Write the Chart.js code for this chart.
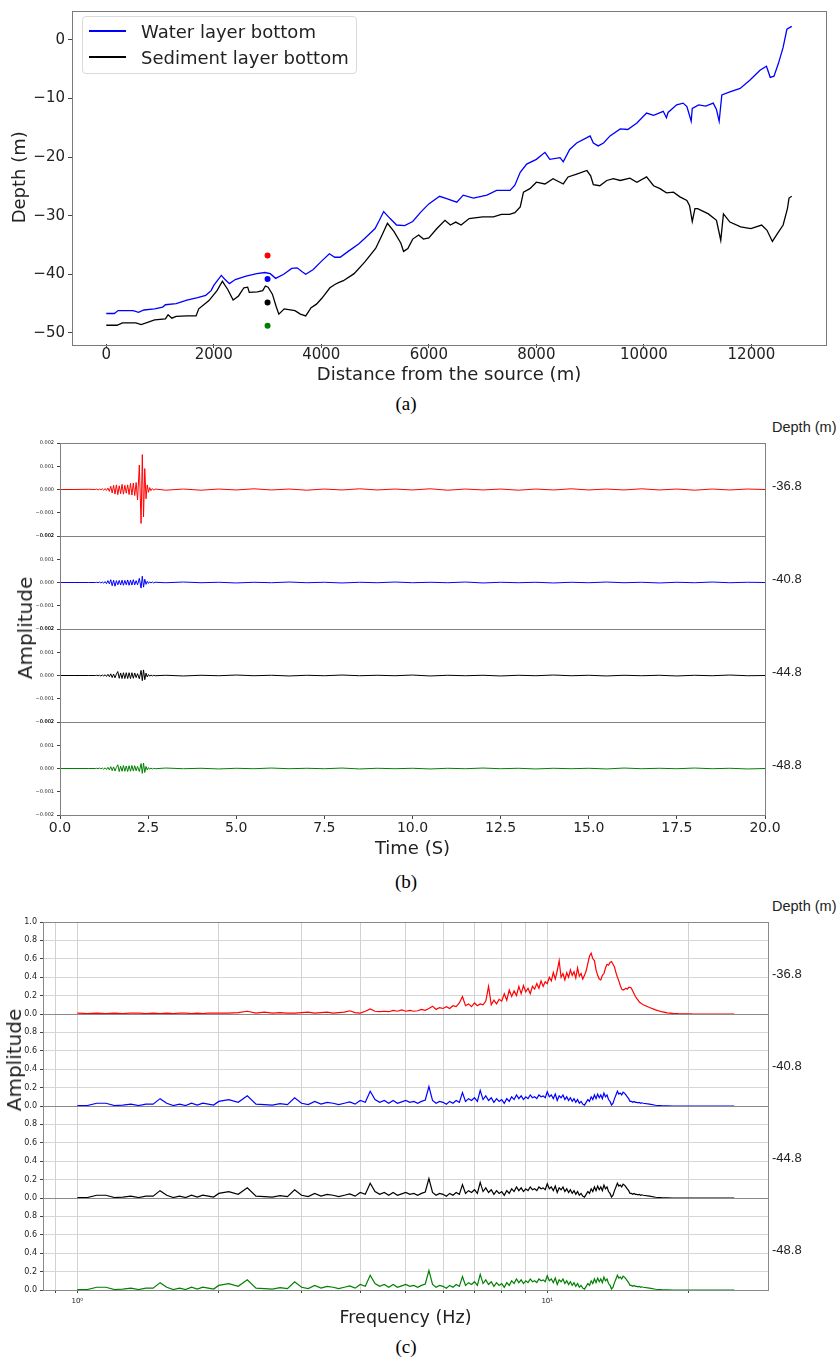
<!DOCTYPE html>
<html lang="en">
<head>
<meta charset="UTF-8">
<meta name="viewport" content="width=device-width, initial-scale=1.0">
<title>Layer profile, waveforms and spectra</title>
<script src="https://cdn.jsdelivr.net/npm/chart.js"></script>
<style>
  html, body { margin: 0; padding: 0; background: #fff; }
  #page { position: relative; width: 840px; height: 1358px; overflow: hidden;
          font-family: "DejaVu Sans", sans-serif; color: #222; }
  #page canvas { position: absolute; left: 0; }
  .lbl { position: absolute; white-space: nowrap; transform: translate(-50%, -50%); }
  .cap { font-family: "Liberation Serif", serif; font-size: 19px; color: #000; }
  .rot { font-size: 20px; transform: translate(-50%, -50%) rotate(-90deg); }
  .dep { position: absolute; left: 772px; white-space: nowrap; transform: translateY(-50%);
         font-family: "Liberation Sans", sans-serif; font-size: 13px; color: #222; }
  .dep.head { font-size: 14.5px; }
  #legend { position: absolute; left: 82px; top: 16px; width: 275px; height: 58px; box-sizing: border-box;
            border: 1px solid #d9d9d9; border-radius: 4px; background: rgba(255,255,255,0.85); padding-top: 1px; }
  #legend .row { height: 26px; display: flex; align-items: center; font-size: 18px; color: #222; }
  #legend .sw { display: inline-block; width: 37px; height: 1.5px; margin: 0 15px 0 6px; }
</style>
</head>
<body>
<div id="page">
  <canvas id="profile" width="840" height="390" style="top:0px"></canvas>
  <div id="legend"></div>
  <div class="lbl cap" style="left:406px; top:404px">(a)</div>

  <canvas id="wave0" width="840" height="109" style="top:435px"></canvas>
  <canvas id="wave1" width="840" height="109" style="top:528px"></canvas>
  <canvas id="wave2" width="840" height="109" style="top:621px"></canvas>
  <canvas id="wave3" width="840" height="148" style="top:714px"></canvas>
  <div class="lbl rot" style="left:25px; top:628px">Amplitude</div>
  <div class="lbl cap" style="left:406px; top:882px">(b)</div>

  <canvas id="spec0" width="840" height="108" style="top:914px"></canvas>
  <canvas id="spec1" width="840" height="108" style="top:1006px"></canvas>
  <canvas id="spec2" width="840" height="108" style="top:1098px"></canvas>
  <canvas id="spec3" width="840" height="145" style="top:1190px"></canvas>
  <div class="lbl rot" style="left:14px; top:1060px">Amplitude</div>
  <div class="lbl cap" style="left:406px; top:1347px">(c)</div>
</div>

<script>
// ---- (a) layer profile ----
const waterDist = [
  0, 150, 220, 500, 600, 700, 900, 1050, 1100, 1300,
  1500, 1700, 1850, 1950, 2000, 2080, 2140, 2200, 2290, 2400,
  2600, 2800, 2950, 3050, 3150, 3300, 3450, 3550, 3650, 3710,
  3850, 4000, 4150, 4250, 4350, 4500, 4700, 4850, 5000, 5080,
  5160, 5280, 5400, 5550, 5700, 5850, 6000, 6200, 6330, 6520,
  6640, 6830, 7080, 7260, 7510, 7600, 7700, 7820, 8000, 8160,
  8250, 8440, 8500, 8620, 8750, 8940, 9000, 9060, 9150, 9250,
  9370, 9560, 9700, 9870, 10050, 10180, 10360, 10420, 10450, 10610,
  10730, 10800, 10880, 10900, 11020, 11150, 11290, 11350, 11400, 11450,
  11600, 11790, 11970, 12160, 12280, 12350, 12420, 12500, 12590, 12660,
  12750];
const waterDepth = [
  -46.7, -46.7, -46.2, -46.2, -46.5, -46.1, -45.9, -45.6, -45.2, -45.0,
  -44.4, -44.0, -43.6, -42.8, -41.9, -40.9, -40.2, -40.8, -41.6, -40.9,
  -40.3, -39.9, -39.7, -39.9, -40.7, -40.0, -39.0, -38.9, -39.6, -40.0,
  -39.2, -37.8, -36.5, -37.1, -37.1, -36.1, -34.8, -33.5, -32.2, -30.8,
  -29.3, -30.5, -31.6, -31.7, -31.0, -29.4, -28.0, -26.7, -27.1, -27.7,
  -26.5, -27.0, -26.5, -25.7, -25.7, -24.8, -22.6, -21.2, -20.4, -19.2,
  -20.4, -20.1, -20.8, -18.7, -17.6, -16.7, -16.4, -17.6, -18.1, -17.6,
  -16.4, -15.2, -15.3, -14.2, -12.5, -12.9, -12.2, -13.3, -12.4, -11.1,
  -10.8, -11.4, -13.9, -11.7, -11.1, -11.3, -10.8, -11.9, -13.9, -9.4,
  -8.9, -8.3, -6.9, -5.2, -4.5, -6.4, -6.2, -4.1, -1.3, 1.8,
  2.3];
const sedimentDist = [
  0, 200, 300, 550, 650, 900, 1100, 1150, 1220, 1300,
  1500, 1670, 1720, 1910, 2060, 2160, 2260, 2360, 2460, 2560,
  2630, 2660, 2810, 2910, 2960, 3010, 3090, 3160, 3210, 3310,
  3510, 3610, 3710, 3810, 3910, 4010, 4160, 4260, 4330, 4410,
  4610, 4810, 5010, 5130, 5230, 5350, 5480, 5530, 5610, 5700,
  5810, 5900, 6000, 6150, 6300, 6400, 6500, 6600, 6750, 7000,
  7200, 7350, 7500, 7600, 7700, 7760, 7880, 8000, 8160, 8310,
  8500, 8590, 8750, 8940, 9010, 9060, 9180, 9310, 9430, 9560,
  9740, 9870, 10050, 10180, 10300, 10420, 10550, 10670, 10800, 10850,
  10900, 10950, 11000, 11200, 11350, 11430, 11480, 11600, 11800, 11990,
  12190, 12290, 12390, 12490, 12590, 12670, 12700, 12750];
const sedimentDepth = [
  -48.7, -48.7, -48.3, -48.3, -48.6, -47.8, -47.6, -46.9, -47.5, -47.2,
  -47.1, -47.1, -45.9, -44.5, -42.8, -41.2, -42.6, -44.4, -43.7, -42.3,
  -42.2, -43.1, -43.0, -42.8, -42.0, -42.2, -43.4, -45.5, -46.8, -45.9,
  -46.2, -46.8, -47.1, -45.7, -45.1, -44.1, -42.3, -41.7, -41.4, -41.1,
  -39.9, -37.9, -35.6, -33.3, -31.3, -32.7, -34.7, -36.1, -35.6, -34.0,
  -33.3, -34.0, -33.8, -32.2, -30.8, -31.6, -31.1, -31.6, -30.5, -30.2,
  -30.2, -29.8, -29.8, -29.5, -28.5, -26.0, -25.4, -24.3, -24.6, -23.7,
  -24.6, -23.4, -22.9, -22.3, -23.2, -24.7, -24.9, -24.0, -23.7, -24.0,
  -23.6, -24.3, -23.4, -24.9, -25.4, -26.1, -26.0, -26.8, -27.4, -28.3,
  -31.0, -28.8, -28.8, -29.7, -30.8, -34.2, -29.7, -31.1, -31.9, -32.2,
  -31.6, -32.5, -34.4, -33.0, -31.6, -28.8, -27.0, -26.7];
const receiverDist = 3000;
const receiverDepth = [-36.8, -40.8, -44.8, -48.8];
const distTicks = [0, 2000, 4000, 6000, 8000, 10000, 12000];
const depthTicks = [-50, -40, -30, -20, -10, 0];

// ---- (b) waveforms, amplitude in units of 1e-5 ----
const timeS = [
  0, 0.4, 0.8, 1.0,
  1.04, 1.08, 1.12, 1.16, 1.2, 1.24, 1.28, 1.32, 1.36, 1.4,
  1.44, 1.48, 1.52, 1.56, 1.6, 1.64, 1.68, 1.72, 1.76, 1.8,
  1.84, 1.88, 1.92, 1.96, 2.0, 2.04, 2.08, 2.12, 2.16,
  2.2, 2.25, 2.3, 2.335, 2.37, 2.405, 2.44, 2.475, 2.51, 2.545, 2.58, 2.62, 2.66, 2.7,
  3, 3.5, 4, 4.5, 5, 5.5, 6, 6.5, 7, 7.5,
  8, 8.5, 9, 9.5, 10, 10.5, 11, 11.5, 12, 12.5,
  13, 13.5, 14, 14.5, 15, 15.5, 16, 16.5, 17, 17.5,
  18, 18.5, 19, 19.5, 20];
const ampRed = [
  0, 0, 1, 0,
  2, -2, 2, -1, 3, -3, 4, -4, 6, -8,
  14, -15, 18, -20, 20, -22, 16, -18, 22, -20,
  18, -16, 20, -22, 26, -24, 28, -26, 30,
  -45, 105, -146, 150, -118, 90, -40, 20, -12, 8, -5, 4, -3, 2,
  -3, 2, -3, 2, -2, 3, -2, 2, -3, 2,
  -2, 3, -2, 2, -2, 3, -3, 2, -2, 2,
  -3, 2, -2, 3, -2, 2, -2, 3, -2, 2,
  -3, 2, -2, 2, 0];
const ampBlue = [
  0, 0, 0, 0,
  1, -1, 2, -2, 2, -3, 4, -5, 8, -6,
  12, -14, 10, -16, 8, -10, 9, -11, 10, -12,
  9, -10, 11, -12, 10, -11, 12, -10, 8,
  -10, 18, -24, 27, -20, 14, -8, 5, -4, 3, -2, 2, -2, 1,
  -1, 2, -1, 1, -2, 1, -1, 2, -1, 1,
  -2, 1, -1, 2, -1, 1, -1, 2, -2, 1,
  -1, 1, -2, 1, -1, 2, -1, 1, -2, 1,
  -1, 2, -1, 1, 0];
const ampBlack = [
  0, 0, 0, 0,
  1, -1, 1, -2, 2, -2, 3, -4, 5, -5,
  7, -9, 6, -10, 6, 17, -12, 11, -13, 12,
  -13, 12, -13, 12, -13, 12, -12, 11, -9,
  8, -14, 22, -22, 24, -18, 10, -6, 4, -3, 2, -2, 1, -1,
  1, -2, 1, -1, 2, -1, 1, -2, 1, -1,
  2, -1, 1, -1, 2, -2, 1, -1, 1, -2,
  1, -1, 2, -1, 1, -2, 1, -1, 1, -2,
  1, -1, 2, -1, 0];
const ampGreen = [
  0, 0, 0, 0,
  1, -1, 2, -1, 2, -3, 3, -4, 5, -6,
  8, -9, 7, -11, 5, 16, -13, 10, -12, 13,
  -12, 11, -13, 12, -12, 13, -11, 12, -10,
  9, -13, 21, -21, 23, -17, 9, -6, 4, -3, 2, -2, 1, -1,
  2, -1, 1, -2, 1, -1, 2, -1, 1, -1,
  2, -2, 1, -1, 1, -2, 1, -1, 2, -1,
  1, -2, 1, -1, 1, -2, 2, -1, 1, -1,
  2, -1, 1, -2, 0];

// ---- (c) spectra ----
const freqHz = [
  1.00, 1.05, 1.10, 1.15, 1.20, 1.25, 1.30, 1.35, 1.40, 1.45,
  1.50, 1.55, 1.60, 1.65, 1.70, 1.75, 1.80, 1.85, 1.90, 1.95,
  2.0, 2.1, 2.2, 2.3, 2.4, 2.5, 2.6, 2.7, 2.8, 2.9,
  3.0, 3.1, 3.2, 3.3, 3.4, 3.5, 3.6, 3.7, 3.8, 3.9,
  4.0, 4.1, 4.2, 4.3, 4.4, 4.5, 4.6, 4.7, 4.8, 4.9,
  5.0, 5.1, 5.2, 5.3, 5.4, 5.5, 5.6, 5.7, 5.8, 5.9,
  6.0, 6.1, 6.2, 6.3, 6.4, 6.5, 6.6, 6.7, 6.8, 6.9,
  7.0, 7.1, 7.2, 7.3, 7.4, 7.5, 7.6, 7.7, 7.8, 7.9,
  8.0, 8.1, 8.2, 8.3, 8.4, 8.5, 8.6, 8.7, 8.8, 8.9,
  9.0, 9.1, 9.2, 9.3, 9.4, 9.5, 9.6, 9.7, 9.8, 9.9,
  10.0, 10.1, 10.2, 10.3, 10.4, 10.5, 10.6, 10.7, 10.8, 10.9,
  11.0, 11.1, 11.2, 11.3, 11.4, 11.5, 11.6, 11.7, 11.8, 11.9,
  12.0, 12.1, 12.2, 12.3, 12.4, 12.5, 12.6, 12.7, 12.8, 12.9,
  13.0, 13.1, 13.2, 13.3, 13.4, 13.5, 13.6, 13.7, 13.8, 13.9,
  14.0, 14.1, 14.2, 14.3, 14.4, 14.5, 14.6, 14.7, 14.8, 14.9,
  15.0, 15.1, 15.2, 15.3, 15.4, 15.5, 15.6, 15.7, 15.8, 15.9,
  16.0, 16.5, 17.0, 17.5, 18.0, 18.5, 19.0, 19.5, 20.0, 20.5,
  21.0, 21.5, 22.0, 22.5, 23.0, 23.5, 24.0, 24.5, 25.0];
const specRed = [
  0.01, 0.005, 0.01, 0.005, 0.01, 0.005, 0.01, 0.01, 0.005, 0.01,
  0.005, 0.01, 0.005, 0.01, 0.01, 0.005, 0.01, 0.005, 0.01, 0.01,
  0.01, 0.01, 0.015, 0.03, 0.01, 0.02, 0.01, 0.015, 0.01, 0.01,
  0.015, 0.02, 0.01, 0.015, 0.02, 0.01, 0.015, 0.02, 0.035, 0.015,
  0.01, 0.03, 0.055, 0.03, 0.025, 0.03, 0.025, 0.04, 0.03, 0.045,
  0.03, 0.04, 0.03, 0.035, 0.05, 0.04, 0.06, 0.085, 0.05, 0.07,
  0.06, 0.08, 0.06, 0.09, 0.08, 0.12, 0.19, 0.09, 0.11, 0.08,
  0.12, 0.09, 0.11, 0.10, 0.14, 0.30, 0.10, 0.15, 0.11, 0.16,
  0.14, 0.22, 0.15, 0.26, 0.19, 0.25, 0.20, 0.30, 0.22, 0.31,
  0.24, 0.28, 0.22, 0.30, 0.27, 0.33, 0.28, 0.36, 0.30, 0.35,
  0.33, 0.40, 0.36, 0.45, 0.38, 0.47, 0.58, 0.40, 0.44, 0.37,
  0.45, 0.40, 0.48, 0.42, 0.46, 0.39, 0.50, 0.41, 0.44, 0.38,
  0.42, 0.47, 0.55, 0.63, 0.66, 0.60, 0.58, 0.48, 0.42, 0.38,
  0.37, 0.42, 0.44, 0.50, 0.54, 0.53, 0.56, 0.57, 0.54, 0.51,
  0.45, 0.40, 0.36, 0.31, 0.27, 0.26, 0.27, 0.28, 0.27, 0.29,
  0.29, 0.28, 0.25, 0.22, 0.19, 0.17, 0.15, 0.13, 0.12, 0.11,
  0.10, 0.07, 0.045, 0.025, 0.012, 0.006, 0.003, 0.002, 0.001, 0,
  0, 0, 0, 0, 0, 0, 0, 0, 0];
// blue, black and green spectra look the same in the picture
const specLower = [
  0.005, 0.005, 0.03, 0.03, 0.005, 0.01, 0.02, 0.005, 0.02, 0.02,
  0.08, 0.03, 0.005, 0.02, 0.005, 0.03, 0.01, 0.03, 0.02, 0.01,
  0.05, 0.07, 0.04, 0.11, 0.02, 0.015, 0.01, 0.025, 0.015, 0.09,
  0.03, 0.015, 0.05, 0.02, 0.04, 0.03, 0.015, 0.03, 0.045, 0.02,
  0.06, 0.04, 0.16, 0.07, 0.04, 0.06, 0.03, 0.06, 0.03, 0.045,
  0.06, 0.04, 0.05, 0.03, 0.05, 0.065, 0.21, 0.06, 0.03, 0.05,
  0.04, 0.02, 0.05, 0.03, 0.06, 0.04, 0.145, 0.05, 0.08, 0.06,
  0.09, 0.05, 0.17, 0.07, 0.11, 0.06, 0.09, 0.04, 0.08, 0.05,
  0.07, 0.03, 0.08, 0.05, 0.10, 0.07, 0.12, 0.08, 0.11, 0.07,
  0.10, 0.08, 0.12, 0.09, 0.10, 0.08, 0.12, 0.10, 0.11, 0.09,
  0.155, 0.10, 0.12, 0.08, 0.13, 0.06, 0.11, 0.09, 0.12, 0.07,
  0.10, 0.06, 0.09, 0.05, 0.08, 0.04, 0.07, 0.03, 0.05, 0.02,
  0.01, 0.04, 0.07, 0.05, 0.10, 0.07, 0.12, 0.08, 0.13, 0.09,
  0.12, 0.08, 0.14, 0.10, 0.12, 0.07, 0.05, 0.01, 0.03, 0.08,
  0.12, 0.16, 0.13, 0.14, 0.12, 0.15, 0.14, 0.12, 0.10, 0.08,
  0.05, 0.05, 0.04, 0.05, 0.04, 0.04, 0.035, 0.04, 0.03, 0.035,
  0.03, 0.02, 0.008, 0.004, 0.002, 0, 0, 0, 0, 0,
  0, 0, 0, 0, 0, 0, 0, 0, 0];
const logGridHz = [0.9, 1, 2, 3, 4, 5, 6, 7, 8, 9, 10, 20];
const specTicksTop = [0, 0.2, 0.4, 0.6, 0.8, 1.0];
const specTicks = [0, 0.2, 0.4, 0.6, 0.8];

const traceColors = ['#ff0000', '#0000ff', '#000000', '#008000'];

Chart.defaults.font.family = '"DejaVu Sans", sans-serif';
Chart.defaults.color = '#222';

// box around each plot area, like the matplotlib spines
const framePlugin = {
  id: 'frame',
  afterDraw(chart, args, opts) {
    const { ctx, chartArea: a } = chart;
    ctx.save();
    ctx.strokeStyle = opts.color || '#7a7a7a';
    ctx.lineWidth = 1;
    ctx.strokeRect(Math.round(a.left) + 0.5, Math.round(a.top) + 0.5,
                   Math.round(a.right - a.left), Math.round(a.bottom - a.top));
    ctx.restore();
  }
};

function pts(xs, ys) { return xs.map((x, i) => ({ x: x, y: ys[i] })); }
function minusSign(s) { return s.replace('-', '\u2212'); }

const baseOpts = {
  responsive: false, animation: false, devicePixelRatio: 1,
  events: []
};

// (a)
const profile = new Chart(document.getElementById('profile'), {
  type: 'line',
  data: {
    datasets: [
      { label: 'Water layer bottom', data: pts(waterDist, waterDepth), borderColor: '#0000ff',
        borderWidth: 1.3, pointRadius: 0, tension: 0 },
      { label: 'Sediment layer bottom', data: pts(sedimentDist, sedimentDepth), borderColor: '#000000',
        borderWidth: 1.3, pointRadius: 0, tension: 0 },
      { type: 'scatter', label: 'receivers', data: receiverDepth.map(d => ({ x: receiverDist, y: d })),
        showLine: false, pointRadius: 3, pointBorderWidth: 0, pointBackgroundColor: traceColors }
    ]
  },
  options: {
    ...baseOpts,
    layout: { autoPadding: false, padding: { left: 0, right: 14, top: 6, bottom: 0 } },
    plugins: { legend: { display: false }, tooltip: { enabled: false }, frame: { color: '#7a7a7a' } },
    scales: {
      x: {
        type: 'linear', min: -637.5, max: 13387.5,
        afterBuildTicks: s => { s.ticks = distTicks.map(v => ({ value: v })); },
        afterFit: s => { s.height = 46; },
        grid: { drawOnChartArea: false, tickLength: 4, tickColor: '#444' },
        border: { display: false },
        ticks: { autoSkip: false, maxRotation: 0, padding: 0, font: { size: 15, lineHeight: 1 },
                 callback: v => String(v) },
        title: { display: true, text: 'Distance from the source (m)', font: { size: 18 },
                 padding: { top: 0, bottom: 4 } }
      },
      y: {
        type: 'linear', min: -51.9, max: 5.0,
        afterBuildTicks: s => { s.ticks = depthTicks.map(v => ({ value: v })); },
        afterFit: s => { s.width = 72; },
        grid: { drawOnChartArea: false, tickLength: 4, tickColor: '#444' },
        border: { display: false },
        ticks: { autoSkip: false, padding: 3, font: { size: 15, lineHeight: 1 },
                 callback: v => minusSign(String(v)) },
        title: { display: true, text: 'Depth (m)', font: { size: 18 }, padding: { top: 10, bottom: 0 } }
      }
    }
  },
  plugins: [framePlugin]
});

// legend built from the two line datasets
const legend = document.getElementById('legend');
profile.data.datasets.slice(0, 2).forEach(ds => {
  const row = document.createElement('div');
  row.className = 'row';
  const sw = document.createElement('span');
  sw.className = 'sw';
  sw.style.background = ds.borderColor;
  row.appendChild(sw);
  row.appendChild(document.createTextNode(ds.label));
  legend.appendChild(row);
});

// (b)
function waveChart(id, values, color, last) {
  return new Chart(document.getElementById(id), {
    type: 'line',
    data: { datasets: [{ data: pts(timeS, values), borderColor: color, borderWidth: 1,
                         pointRadius: 0, tension: 0 }] },
    options: {
      ...baseOpts,
      layout: { autoPadding: false, padding: { left: 0, right: 75, top: 8, bottom: last ? 0 : 8 } },
      plugins: { legend: { display: false }, tooltip: { enabled: false }, frame: { color: '#808080' } },
      scales: {
        x: {
          type: 'linear', min: 0, max: 20, display: last,
          afterFit: s => { s.height = last ? 47 : 0; },
          grid: { drawOnChartArea: false, tickLength: 4, tickColor: '#444' },
          border: { display: false },
          ticks: { stepSize: 2.5, autoSkip: false, maxRotation: 0, padding: 2,
                   font: { size: 14, lineHeight: 1 }, callback: v => v.toFixed(1) },
          title: { display: true, text: 'Time (S)', font: { size: 18 }, padding: { top: 0, bottom: 2 } }
        },
        y: {
          type: 'linear', min: -200, max: 200,
          afterFit: s => { s.width = 60; },
          grid: { drawOnChartArea: false, tickLength: 3, tickColor: '#444' },
          border: { display: false },
          ticks: { stepSize: 100, autoSkip: false, padding: 3, font: { size: 5, lineHeight: 1 },
                   callback: v => minusSign((v / 1e5).toFixed(3)) }
        }
      }
    },
    plugins: [framePlugin]
  });
}

const waveValues = [ampRed, ampBlue, ampBlack, ampGreen];
const waveCharts = waveValues.map((vals, i) => waveChart('wave' + i, vals, traceColors[i], i === 3));

// (c)
function specChart(id, values, color, first, last) {
  return new Chart(document.getElementById(id), {
    type: 'line',
    data: { datasets: [{ data: pts(freqHz, values), borderColor: color, borderWidth: 1.2,
                         pointRadius: 0, tension: 0 }] },
    options: {
      ...baseOpts,
      layout: { autoPadding: false, padding: { left: 0, right: 72, top: 8, bottom: last ? 0 : 8 } },
      plugins: { legend: { display: false }, tooltip: { enabled: false }, frame: { color: '#8a8a8a' } },
      scales: {
        x: {
          type: 'logarithmic', min: 0.8453, max: 29.49,
          afterBuildTicks: s => { s.ticks = logGridHz.map(v => ({ value: v })); },
          afterFit: s => { s.height = last ? 45 : 0; },
          grid: { color: '#d2d2d2', drawTicks: last, tickLength: 3, tickColor: '#444' },
          border: { display: false },
          ticks: { display: last, autoSkip: false, maxRotation: 0, padding: 5,
                   font: { size: 7, lineHeight: 1 },
                   callback: v => (v === 1 ? '10\u2070' : v === 10 ? '10\u00b9' : '') },
          title: { display: last, text: 'Frequency (Hz)', font: { size: 17.5 },
                   padding: { top: 0, bottom: 6 } }
        },
        y: {
          type: 'linear', min: 0, max: 1,
          afterBuildTicks: s => { s.ticks = (first ? specTicksTop : specTicks).map(v => ({ value: v })); },
          afterFit: s => { s.width = 43; },
          grid: { color: c => (c.tick && c.tick.value === 0 ? '#333' : '#d6d6d6'),
                  tickLength: 3, tickColor: '#444' },
          border: { display: false },
          ticks: { autoSkip: false, padding: 3, font: { size: 8, lineHeight: 1 },
                   callback: v => v.toFixed(1) }
        }
      }
    },
    plugins: [framePlugin]
  });
}

const specValues = [specRed, specLower, specLower, specLower];
const specCharts = specValues.map((vals, i) => specChart('spec' + i, vals, traceColors[i], i === 0, i === 3));

// depth labels to the right of the stacked panels
function addDepthLabels(charts, ids, shift) {
  const page = document.getElementById('page');
  const topCanvas = document.getElementById(ids[0]);
  const head = document.createElement('div');
  head.className = 'dep head';
  head.style.top = (topCanvas.offsetTop + charts[0].chartArea.top - 16.5) + 'px';
  head.textContent = 'Depth (m)';
  page.appendChild(head);
  charts.forEach((ch, i) => {
    const a = ch.chartArea;
    const el = document.createElement('div');
    el.className = 'dep';
    el.style.top = (document.getElementById(ids[i]).offsetTop + (a.top + a.bottom) / 2 + shift) + 'px';
    el.textContent = receiverDepth[i].toFixed(1);
    page.appendChild(el);
  });
}
addDepthLabels(waveCharts, ['wave0', 'wave1', 'wave2', 'wave3'], -4.5);
addDepthLabels(specCharts, ['spec0', 'spec1', 'spec2', 'spec3'], 4.5);
</script>
</body>
</html>
